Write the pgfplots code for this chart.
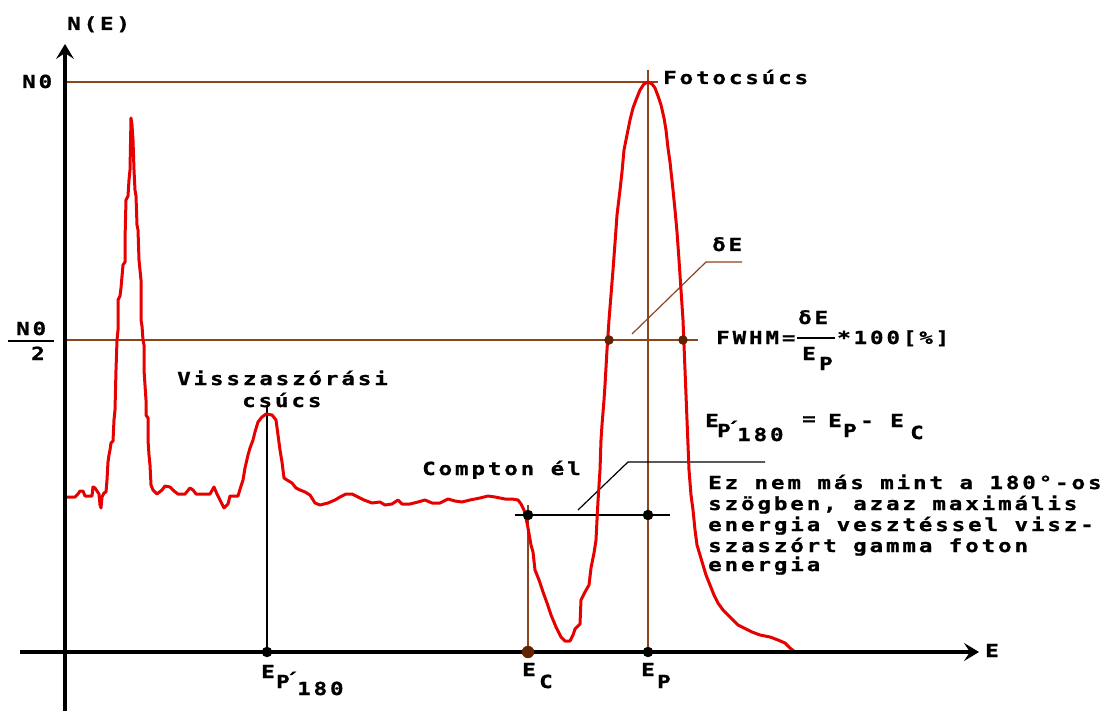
\documentclass[border=0pt]{standalone}
\usepackage{pgfplots}
\pgfplotsset{compat=1.18}
\usetikzlibrary{arrows.meta}
\usepackage{fontspec}
\newfontfamily\pixfont[LetterSpace=16,FakeStretch=1.25,FakeBold=1]{DejaVu Sans Mono Bold}
\newcommand\pf{\pixfont\fontsize{18pt}{21pt}\selectfont}
\newcommand\acc{\makebox[0pt][l]{\kern-5pt\raisebox{2pt}{´}}}
\definecolor{cred}{RGB}{230,0,0}
\definecolor{cbrown}{RGB}{140,70,30}
\definecolor{cdot}{RGB}{100,35,0}
\tikzset{lbl/.style={font=\pf, inner sep=0pt, anchor=base west}}
\begin{document}
\begin{tikzpicture}
\begin{axis}[width=1116pt,height=711pt,scale only axis,
  xmin=0,xmax=1116,ymin=0,ymax=711,y dir=reverse,
  axis lines=none,clip=false]
\coordinate (BL) at (axis cs:0,711);
\coordinate (TR) at (axis cs:1116,0);
% brown guide lines
\addplot[cbrown, line width=1.5pt] coordinates {(65,82) (658,82)};
\addplot[cbrown, line width=1.5pt] coordinates {(65,340) (698,340)};
\addplot[cbrown, line width=1.5pt] coordinates {(648,70) (648,652)};
\addplot[cbrown, line width=1.5pt] coordinates {(528,505) (528,652)};
\addplot[cbrown, line width=1.2pt] coordinates {(632,334) (706,262) (742,262)};
% black thin lines
\addplot[black, line width=1.3pt] coordinates {(267,405) (267,652)};
\addplot[black, line width=1.5pt] coordinates {(515,515) (670,515)};
\addplot[black, line width=1.2pt] coordinates {(578,510) (628,462) (765,462)};
% spectrum
\addplot[cred, line width=3pt, line join=round] coordinates {
(67,497) (75,497) (78,494) (80,491) (83,491) (85,496) (90,496) (92,496) (93,487) (95,488) (97,491) (99,494) (100,505) (101,508) (102,497) (104,493) (106,492) (107,480) (108,462) (109,455) (110,450) (111,443) (113,441) (114,420) (115,410) (116,370) (117,340) (118,330) (118,300) (120,296) (121,288) (123,265) (125,262) (125,240) (126,200) (128,196) (129,180) (130,170) (131,118) (132,125) (133,140) (134,170) (135,190) (136,196) (137,225) (138,230) (139,260) (141,280) (141,320) (142,326) (143,340) (144,345) (144,370) (146,400) (146,415) (148,418) (148,440) (149,455) (150,465) (151,485) (153,490) (157,494) (162,490) (165,486) (170,487) (174,491) (178,494) (185,494) (190,488) (193,490) (196,494) (210,494) (214,487) (217,494) (220,500) (224,508) (228,504) (230,496) (238,496) (241,486) (243,480) (245,468) (248,455) (250,448) (253,440) (255,432) (258,422) (262,417) (266,414) (272,415) (276,420) (278,435) (280,450) (282,462) (284,478) (287,480) (292,483) (296,488) (300,490) (305,492) (310,495) (315,503) (320,505) (328,503) (335,500) (340,497) (346,494) (352,494) (358,497) (364,500) (372,503) (380,502) (385,505) (392,504) (398,500) (402,504) (410,504) (418,502) (425,500) (432,503) (440,503) (448,499) (455,501) (462,502) (470,500) (480,498) (488,496) (495,497) (505,499) (512,499) (518,500) (521,504) (524,510) (526,518) (528,528) (531,545) (533,552) (535,570) (539,580) (543,592) (547,603) (551,615) (556,627) (561,637) (565,641) (570,641) (573,635) (575,629) (580,624) (581,600) (585,592) (589,585) (591,568) (594,553) (596,540) (597,520) (598,501) (600,470) (601,440) (602,425) (604,400) (605,385) (607,350) (609,320) (611,295) (613,270) (615,243) (617,215) (620,190) (622,172) (624,150) (627,135) (630,120) (633,108) (636,100) (640,90) (644,84) (648,82) (652,84) (655,88) (658,96) (661,105) (664,118) (666,130) (668,148) (670,162) (673,190) (675,210) (677,232) (679,260) (681,290) (683,320) (684,345) (685,370) (686,395) (687,420) (688,445) (689,470) (691,495) (693,510) (695,530) (697,545) (700,555) (703,565) (706,575) (710,585) (714,595) (718,603) (723,610) (728,615) (733,620) (738,625) (744,628) (752,632) (760,635) (770,637) (778,640) (785,643) (790,648) (795,652)};
% axes
\addplot[black, line width=4.5pt, -{Stealth[length=15pt,width=18pt,inset=6pt]}] coordinates {(65,711) (65,44)};
\addplot[black, line width=4.5pt, -{Stealth[length=15pt,width=18pt,inset=6pt]}] coordinates {(20,652) (979,652)};
% fraction bars
\addplot[black, line width=2.6pt] coordinates {(8,341) (54,341)};
\addplot[black, line width=2.6pt] coordinates {(797,338) (835,338)};
% dots
\addplot[only marks, mark=*, mark size=5pt, black] coordinates {(267,652) (648,652) (528,515) (648,515)};
\addplot[only marks, mark=*, mark size=6pt, cdot] coordinates {(528,652)};
\addplot[only marks, mark=*, mark size=4.5pt, cdot] coordinates {(609,340) (683,340)};
% labels
\node[lbl] at (axis cs:67,30) {N(E)};
\node[lbl] at (axis cs:22,88) {N0};
\node[lbl] at (axis cs:16,335) {N0};
\node[lbl] at (axis cs:31,360) {2};
\node[lbl] at (axis cs:985,657) {E};
\node[lbl] at (axis cs:663,84) {Fotocsúcs};
\node[lbl] at (axis cs:712,251) {δE};
\node[lbl] at (axis cs:716,344) {FWHM=};
\node[lbl] at (axis cs:798,324) {δE};
\node[lbl] at (axis cs:802,360) {E};
\node[lbl] at (axis cs:819,370) {P};
\node[lbl] at (axis cs:837,344) {*100[\%]};
\node[lbl] at (axis cs:177,385) {Visszaszórási};
\node[lbl] at (axis cs:242,407) {csúcs};
\node[lbl] at (axis cs:422,475) {Compton él};
% formula
\node[lbl] at (axis cs:705,427) {E};
\node[lbl] at (axis cs:717,437) {P\acc};
\node[lbl] at (axis cs:737,441) {180};
\node[lbl] at (axis cs:802,425) {=};
\node[lbl] at (axis cs:828,427) {E};
\node[lbl] at (axis cs:843,437) {P};
\node[lbl] at (axis cs:860,427) {-};
\node[lbl] at (axis cs:890,427) {E};
\node[lbl] at (axis cs:910,439) {C};
% text block
\node[lbl] at (axis cs:708,489) {Ez nem más mint a 180°-os};
\node[lbl] at (axis cs:708,510) {szögben, azaz maximális};
\node[lbl] at (axis cs:708,531) {energia vesztéssel visz-};
\node[lbl] at (axis cs:708,552) {szaszórt gamma foton};
\node[lbl] at (axis cs:708,571) {energia};
% tick labels
\node[lbl] at (axis cs:261,678) {E};
\node[lbl] at (axis cs:276,688) {P\acc};
\node[lbl] at (axis cs:297,695) {180};
\node[lbl] at (axis cs:522,676) {E};
\node[lbl] at (axis cs:539,688) {C};
\node[lbl] at (axis cs:641,676) {E};
\node[lbl] at (axis cs:657,688) {P};
\end{axis}
\pgfresetboundingbox
\path[use as bounding box] (BL) rectangle (TR);
\end{tikzpicture}
\end{document}
